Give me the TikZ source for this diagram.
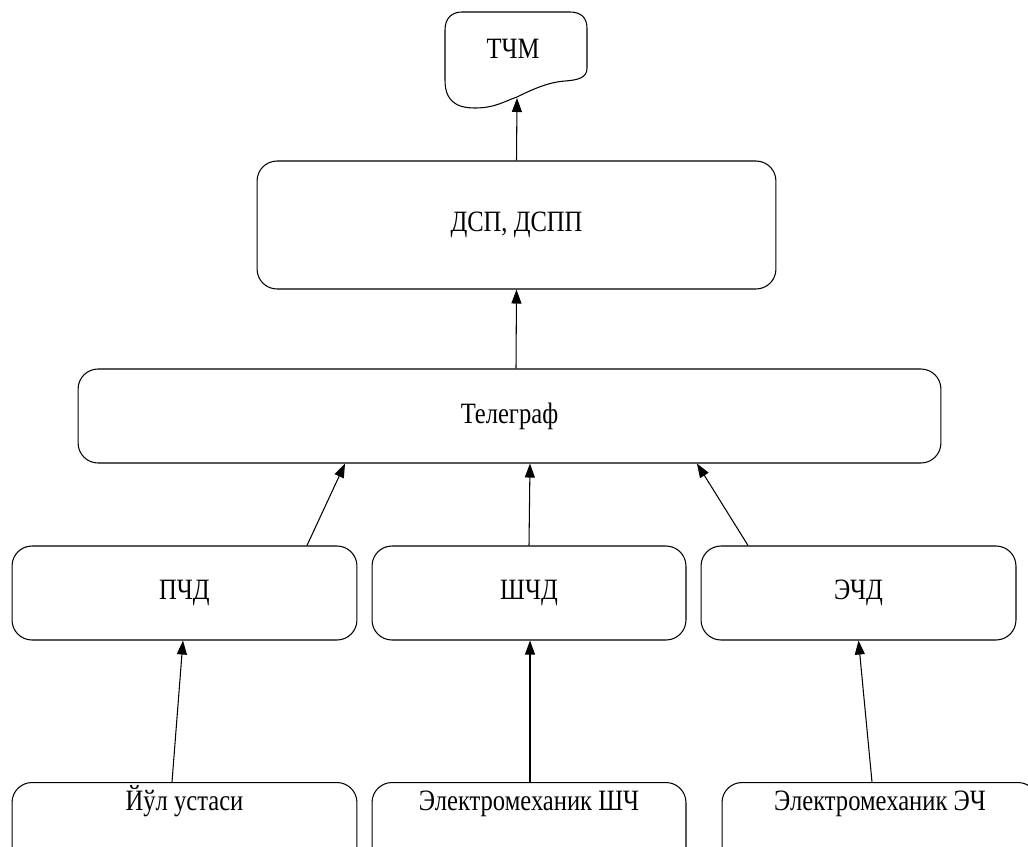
\documentclass[tikz,border=0pt]{standalone}
\usepackage{fontspec}
\setmainfont{Liberation Serif}
\usetikzlibrary{arrows.meta}
\newcommand{\tall}[1]{\scalebox{1}[1.2]{#1}}
\begin{document}
\begin{tikzpicture}[x=0.02cm, y=-0.02cm, font=\fontsize{14}{17}\selectfont, line width=0.6pt,
    box/.style={draw, rounded corners=0.4cm, inner sep=0pt, align=center},
    lowbox/.style={box, anchor=north, text height=0.56cm, text depth=1.2cm},
    arr/.style={-{Triangle[length=0.28cm,width=0.2cm]}}]
    \clip (0,0) rectangle (1028,846);
    % document shape on top
    \draw (445,30) -- (445,80) .. controls (445,100) and (455,108) .. (475,108)
      .. controls (495,108) and (505,101) .. (517,97)
      .. controls (535,88) and (550,82) .. (565,81)
      .. controls (578,80) and (587,78) .. (587,68) -- (587,28)
      .. controls (587,17) and (580,12) .. (570,12) -- (462,12)
      .. controls (452,12) and (445,18) .. (445,30) -- cycle;
    \node (tchm) at (513,49) {\tall{ТЧМ}};
    \coordinate (tchmin) at (517,98);
    \node[box, minimum width=10.38cm, minimum height=2.56cm] (dsp) at (516.5,225) {\tall{ДСП, ДСПП}};
    \node[box, minimum width=17.26cm, minimum height=1.88cm] (teleg) at (509.5,416) {\tall{Телеграф}};
    % middle row
    \node[box, minimum width=6.9cm, minimum height=1.88cm] (pchd) at (184.5,593) {\tall{ПЧД}};
    \node[box, minimum width=6.28cm, minimum height=1.88cm] (shchd) at (529,593) {\tall{ШЧД}};
    \node[box, minimum width=6.3cm, minimum height=1.88cm] (echd) at (858.5,593) {\tall{ЭЧД}};
    % bottom row
    \node[lowbox, minimum width=6.9cm] (yul) at (184.5,782) {\tall{Йўл устаси}};
    \node[lowbox, minimum width=6.28cm] (emshch) at (529,782) {\tall{Электромеханик ШЧ}};
    \node[lowbox, minimum width=6.32cm] (emech) at (880,782) {\tall{Электромеханик ЭЧ}};
    % arrows
    \draw[arr] (dsp.north) -- (tchmin);
    \draw[arr] ([xshift=0.13cm]teleg.north) -- (dsp.south);
    \draw[arr] ([xshift=2.45cm]pchd.north) -- ([xshift=-3.29cm]teleg.south);
    \draw[arr] (shchd.north) -- ([xshift=0.41cm]teleg.south);
    \draw[arr] ([xshift=-2.21cm]echd.north) -- ([xshift=3.75cm]teleg.south);
    \draw[arr] ([xshift=-0.25cm]yul.north) -- ([xshift=-0.03cm]pchd.south);
    \draw[arr] ([xshift=0.02cm]emshch.north) -- ([xshift=0.02cm]shchd.south);
    \draw[arr] ([xshift=-0.16cm]emech.north) -- (echd.south);
\end{tikzpicture}
\end{document}
